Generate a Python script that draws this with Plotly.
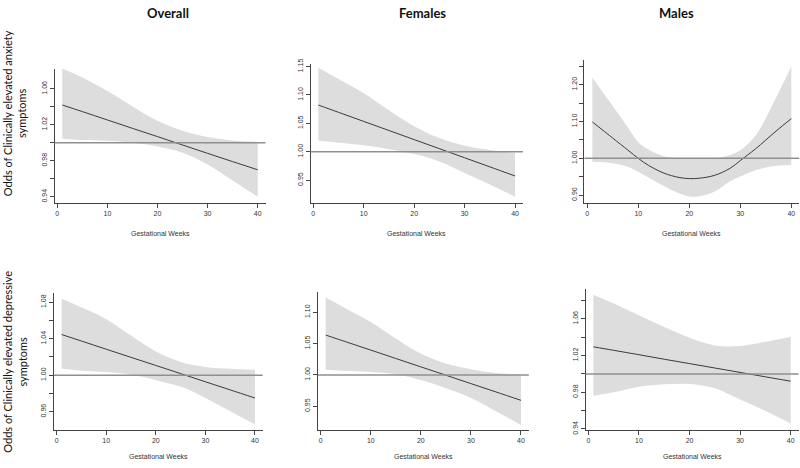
import plotly.graph_objects as go

# ---------------- data ----------------
weeks = [1, 5, 10, 15, 20, 25, 30, 35, 40]
weeks_m_anx = [1, 5, 8, 10, 12, 15, 18, 20, 22, 25, 28, 30, 33, 37, 40]

# Overall - anxiety
ov_anx_fit = [1.042, 1.0347, 1.0254, 1.0161, 1.0069, 0.9976, 0.9883, 0.9791, 0.970]
ov_anx_up = [1.0825, 1.0725, 1.0575, 1.0405, 1.0245, 1.0135, 1.0065, 1.0027, 1.001]
ov_anx_lo = [1.0045, 1.003, 1.0023, 1.000, 0.996, 0.989, 0.976, 0.958, 0.940]

# Females - anxiety
fe_anx_fit = [1.0822, 1.0694, 1.0534, 1.0374, 1.0214, 1.0054, 0.9894, 0.9734, 0.9574]
fe_anx_up = [1.148, 1.128, 1.103, 1.073, 1.045, 1.024, 1.0105, 1.003, 0.998]
fe_anx_lo = [1.020, 1.016, 1.0115, 1.0046, 0.996, 0.983, 0.9626, 0.9425, 0.9207]

# Males - anxiety
ma_anx_fit = [1.099, 1.055, 1.022, 1.000, 0.981, 0.960, 0.948, 0.945, 0.946, 0.954,
              0.973, 0.994, 1.026, 1.074, 1.108]
ma_anx_up = [1.219, 1.142, 1.083, 1.044, 1.024, 1.006, 1.001, 1.000, 1.000, 1.000,
             1.009, 1.022, 1.062, 1.165, 1.25]
ma_anx_lo = [0.991, 0.987, 0.977, 0.963, 0.948, 0.925, 0.905, 0.896, 0.897, 0.910,
             0.938, 0.951, 0.968, 0.980, 0.982]

# Overall - depressive
ov_dep_fit = [1.0446, 1.0375, 1.0285, 1.0196, 1.0107, 1.0018, 0.9928, 0.9839, 0.975]
ov_dep_up = [1.084, 1.0745, 1.0615, 1.0435, 1.026, 1.0145, 1.009, 1.007, 1.006]
ov_dep_lo = [1.007, 1.005, 1.0035, 1.0007, 0.9946, 0.9875, 0.975, 0.9606, 0.9463]

# Females - depressive
fe_dep_fit = [1.0636, 1.0529, 1.0396, 1.0262, 1.0128, 0.9995, 0.9861, 0.9728, 0.9594]
fe_dep_up = [1.1234, 1.106, 1.0845, 1.058, 1.034, 1.018, 1.009, 1.003, 1.0005]
fe_dep_lo = [1.0083, 1.0065, 1.0047, 1.001, 0.9917, 0.9786, 0.963, 0.942, 0.9198]

# Males - depressive
ma_dep_fit = [1.0295, 1.0257, 1.0209, 1.016, 1.0112, 1.0064, 1.0016, 0.9968, 0.992]
ma_dep_up = [1.0864, 1.0768, 1.064, 1.051, 1.0394, 1.031, 1.0305, 1.035, 1.0405]
ma_dep_lo = [0.9762, 0.980, 0.986, 0.9886, 0.989, 0.9843, 0.972, 0.9595, 0.946]

column_titles = ["Overall", "Females", "Males"]
row_titles = ["Odds of Clinically elevated anxiety<br>symptoms",
              "Odds of Clinically elevated depressive<br>symptoms"]
x_title = "Gestational Weeks"
x_ticks = [0, 10, 20, 30, 40]
ref_value = 1.0

# y ticks: (values, labelled values)
yt_p1 = ([0.94, 0.96, 0.98, 1.00, 1.02, 1.04, 1.06], [0.94, 0.98, 1.02, 1.06])
yt_p2 = ([0.95, 1.00, 1.05, 1.10, 1.15], [0.95, 1.00, 1.05, 1.10, 1.15])
yt_p3 = ([0.90, 0.95, 1.00, 1.05, 1.10, 1.15, 1.20, 1.25], [0.90, 1.00, 1.10, 1.20])
yt_p4 = ([0.96, 0.98, 1.00, 1.02, 1.04, 1.06, 1.08], [0.96, 1.00, 1.04, 1.08])
yt_p5 = ([0.95, 1.00, 1.05, 1.10], [0.95, 1.00, 1.05, 1.10])
yt_p6 = ([0.94, 0.96, 0.98, 1.00, 1.02, 1.04, 1.06, 1.08], [0.94, 0.98, 1.02, 1.06])

# ---------------- layout geometry (pixels) ----------------
W, H = 800, 468
panels = [
    dict(xd=(54.5, 265.5), yd=(65, 202.3), yr=(0.9331, 1.0825),
         x=weeks, fit=ov_anx_fit, up=ov_anx_up, lo=ov_anx_lo, yt=yt_p1),
    dict(xd=(310.5, 522.9), yd=(60, 202.3), yr=(0.9098, 1.155),
         x=weeks, fit=fe_anx_fit, up=fe_anx_up, lo=fe_anx_lo, yt=yt_p2),
    dict(xd=(584.4, 799.3), yd=(56.7, 202.3), yr=(0.8787, 1.266),
         x=weeks_m_anx, fit=ma_anx_fit, up=ma_anx_up, lo=ma_anx_lo, yt=yt_p3),
    dict(xd=(53.9, 262.7), yd=(294, 434), yr=(0.9402, 1.0905),
         x=weeks, fit=ov_dep_fit, up=ov_dep_up, lo=ov_dep_lo, yt=yt_p4),
    dict(xd=(317.9, 528.8), yd=(293.3, 434.3), yr=(0.912, 1.1323),
         x=weeks, fit=fe_dep_fit, up=fe_dep_up, lo=fe_dep_lo, yt=yt_p5),
    dict(xd=(585.5, 798.6), yd=(290.7, 434.3), yr=(0.9388, 1.092),
         x=weeks, fit=ma_dep_fit, up=ma_dep_up, lo=ma_dep_lo, yt=yt_p6),
]

AXIS_COL = "#444444"
TICK_FONT = dict(family="Liberation Sans, Arial, sans-serif", size=7, color="#333333")
BAND_COL = "#dddddd"
FIT_COL = "#3a3a3a"
REF_COL = "#8f8f8f"

fig = go.Figure()
layout = dict(width=W, height=H, margin=dict(l=0, r=0, t=0, b=0),
              paper_bgcolor="white", plot_bgcolor="white", showlegend=False)
shapes = []
annotations = []

for i, p in enumerate(panels, start=1):
    xa = "x" if i == 1 else f"x{i}"
    ya = "y" if i == 1 else f"y{i}"
    xkey = "xaxis" if i == 1 else f"xaxis{i}"
    ykey = "yaxis" if i == 1 else f"yaxis{i}"

    fig.add_trace(go.Scatter(x=p["x"], y=p["lo"], mode="lines",
                             line=dict(width=0, shape="spline", color=BAND_COL),
                             xaxis=xa, yaxis=ya, hoverinfo="skip"))
    fig.add_trace(go.Scatter(x=p["x"], y=p["up"], mode="lines", fill="tonexty",
                             fillcolor=BAND_COL,
                             line=dict(width=0, shape="spline", color=BAND_COL),
                             xaxis=xa, yaxis=ya, hoverinfo="skip"))
    fig.add_trace(go.Scatter(x=p["x"], y=p["fit"], mode="lines",
                             line=dict(width=1, shape="spline", color=FIT_COL),
                             xaxis=xa, yaxis=ya))

    x0, x1 = p["xd"][0] / W, p["xd"][1] / W
    yb, yt_ = 1 - p["yd"][1] / H, 1 - p["yd"][0] / H
    vals, labelled = p["yt"]
    ticktext = [f"{v:.2f}" if any(abs(v - l) < 1e-9 for l in labelled) else "" for v in vals]

    layout[xkey] = dict(domain=[x0, x1], range=[-0.56, 41.56], anchor=ya,
                        showline=True, linecolor=AXIS_COL, linewidth=1,
                        ticks="outside", ticklen=4, tickcolor=AXIS_COL, tickwidth=1,
                        tickvals=x_ticks, ticktext=[str(v) for v in x_ticks],
                        tickfont=TICK_FONT, showgrid=False, zeroline=False,
                        ticklabeloverflow="allow", fixedrange=True)
    layout[ykey] = dict(domain=[yb, yt_], range=list(p["yr"]), anchor=xa,
                        showline=True, linecolor=AXIS_COL, linewidth=1,
                        ticks="outside", ticklen=4, tickcolor=AXIS_COL, tickwidth=1,
                        tickvals=vals, ticktext=ticktext, tickangle=-90,
                        tickfont=TICK_FONT, showgrid=False, zeroline=False,
                        ticklabeloverflow="allow", fixedrange=True)

    shapes.append(dict(type="line", xref=f"{xa} domain", yref=ya,
                       x0=0, x1=1, y0=ref_value, y1=ref_value,
                       line=dict(color=REF_COL, width=1.5), layer="above"))

    ty = 233 if i <= 3 else 461
    annotations.append(dict(text=x_title, xref="paper", yref="paper",
                            x=(x0 + x1) / 2, y=1 - ty / H, showarrow=False,
                            xanchor="center", yanchor="middle",
                            font=dict(family="Liberation Sans, Arial, sans-serif",
                                      size=7, color="#333333")))

for t, cx in zip(column_titles, [168, 422, 676]):
    annotations.append(dict(text=f"<b>{t}</b>", xref="paper", yref="paper",
                            x=cx / W, y=1 - 8 / H, showarrow=False,
                            xanchor="center", yanchor="middle",
                            font=dict(family="Lato, sans-serif", size=13, color="#111111")))

for t, cy in zip(row_titles, [111, 365]):
    annotations.append(dict(text=t, xref="paper", yref="paper",
                            x=14.5 / W, y=1 - cy / H, showarrow=False,
                            xanchor="center", yanchor="middle", textangle=-90,
                            align="center",
                            font=dict(family="Lato, sans-serif", size=11, color="#111111")))

layout["shapes"] = shapes
layout["annotations"] = annotations
fig.update_layout(**layout)

fig.write_html("out.html", config={"displayModeBar": False},
               post_script="document.body.style.margin='0';document.body.style.overflow='hidden';")
